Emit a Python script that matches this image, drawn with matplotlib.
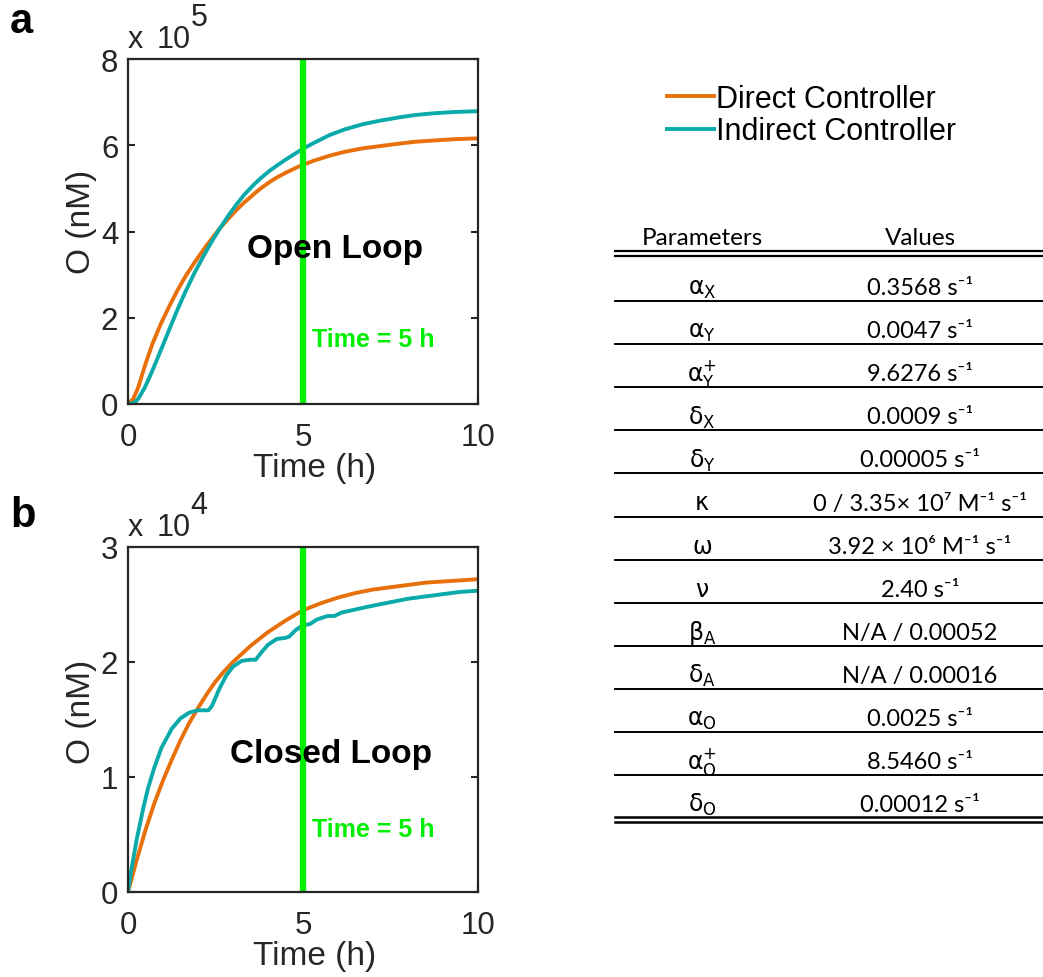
import matplotlib
matplotlib.use('Agg')
import matplotlib.pyplot as plt

plt.rcParams['font.family'] = ['Liberation Sans', 'DejaVu Sans']
plt.rcParams['mathtext.fontset'] = 'dejavusans'

# ---- data ----
# panel a: open loop, O in units of 1e5 nM
t_direct_a = [0, 0.15, 0.29, 0.48, 0.7, 0.95, 1.2, 1.43, 1.65, 1.9, 2.15, 2.38, 2.6, 2.86, 3.1,
              3.33, 3.6, 3.81, 4.05, 4.29, 4.55, 4.86, 5.3, 5.77, 6.2, 6.72, 7.2, 7.77, 8.2, 8.72, 9.3, 10]
direct_a = [0, 0.12, 0.38, 0.88, 1.40, 1.88, 2.30, 2.66, 2.97, 3.28, 3.57, 3.82, 4.05, 4.29, 4.50,
            4.68, 4.87, 5.01, 5.15, 5.27, 5.38, 5.50, 5.64, 5.76, 5.85, 5.93, 5.98, 6.04, 6.08, 6.11, 6.14, 6.16]
t_indirect_a = [0, 0.19, 0.3, 0.48, 0.7, 0.95, 1.2, 1.43, 1.65, 1.9, 2.15, 2.38, 2.6, 2.86, 3.1,
                3.33, 3.6, 3.81, 4.05, 4.29, 4.55, 4.96, 5.3, 5.77, 6.2, 6.72, 7.2, 7.77, 8.2, 8.72, 9.3, 10]
indirect_a = [0, 0.03, 0.13, 0.38, 0.78, 1.27, 1.77, 2.22, 2.62, 3.04, 3.42, 3.75, 4.04, 4.36, 4.63,
              4.86, 5.09, 5.25, 5.41, 5.55, 5.69, 5.90, 6.05, 6.24, 6.37, 6.49, 6.57, 6.65, 6.70, 6.74, 6.77, 6.79]

# panel b: closed loop, O in units of 1e4 nM
t_direct_b = [0, 0.25, 0.5, 0.75, 1, 1.25, 1.5, 1.75, 2, 2.25, 2.5, 2.75, 3, 3.5, 4, 4.5, 5,
              5.5, 6, 6.5, 7, 7.5, 8, 8.5, 9, 9.5, 10]
direct_b = [0, 0.28, 0.54, 0.77, 0.97, 1.15, 1.32, 1.47, 1.60, 1.72, 1.83, 1.92, 2.00, 2.14, 2.26, 2.36, 2.45,
            2.51, 2.56, 2.60, 2.63, 2.65, 2.67, 2.69, 2.70, 2.71, 2.72]
t_indirect_b = [0, 0.1, 0.25, 0.43, 0.57, 0.75, 0.95, 1.25, 1.5, 1.75, 2.0, 2.3, 2.4, 2.6, 2.8, 3.0,
                3.25, 3.5, 3.65, 3.8, 4.0, 4.25, 4.5, 4.6, 4.8, 5.0, 5.2, 5.4, 5.7, 5.9, 6.1, 6.4,
                6.7, 7.0, 7.5, 8.0, 8.5, 9.0, 9.5, 10.0]
indirect_b = [0, 0.20, 0.46, 0.72, 0.90, 1.08, 1.25, 1.42, 1.51, 1.56, 1.58, 1.58, 1.62, 1.76, 1.88, 1.96,
              2.01, 2.02, 2.02, 2.08, 2.15, 2.20, 2.21, 2.22, 2.28, 2.32, 2.33, 2.37, 2.40, 2.40, 2.43, 2.45,
              2.47, 2.49, 2.52, 2.55, 2.57, 2.59, 2.61, 2.62]

labels = ['Direct Controller', 'Indirect Controller']
t_marker = 5

# parameter table
param_names = [r'$\mathrm{α}_\mathrm{X}$', r'$\mathrm{α}_\mathrm{Y}$', r'$\mathrm{α}_\mathrm{Y}^{+}$',
               r'$\mathrm{δ}_\mathrm{X}$', r'$\mathrm{δ}_\mathrm{Y}$', r'$\mathrm{κ}$', r'$\mathrm{ω}$',
               r'$\mathrm{ν}$', r'$\mathrm{β}_\mathrm{A}$', r'$\mathrm{δ}_\mathrm{A}$',
               r'$\mathrm{α}_\mathrm{O}$', r'$\mathrm{α}_\mathrm{O}^{+}$', r'$\mathrm{δ}_\mathrm{O}$']
inv_s = 's\u207b\u00b9'
inv_m = 'M\u207b\u00b9'
param_values = ['0.3568 ' + inv_s, '0.0047 ' + inv_s, '9.6276 ' + inv_s, '0.0009 ' + inv_s,
                '0.00005 ' + inv_s, '0 / 3.35\u00d7 10\u2077 ' + inv_m + ' ' + inv_s,
                '3.92 \u00d7 10\u2076 ' + inv_m + ' ' + inv_s, '2.40 ' + inv_s, 'N/A / 0.00052',
                'N/A / 0.00016', '0.0025 ' + inv_s, '8.5460 ' + inv_s, '0.00012 ' + inv_s]

c_direct = '#E8700A'
c_indirect = '#0AAAAA'
c_green = '#00EE00'
c_axis = '#262626'

W, H = 1043, 978
fig = plt.figure(figsize=(W / 100, H / 100), dpi=100)


def style_axes(ax, ymax, yticks, exponent, ylab_y):
    ax.set_xlim(0, 10)
    ax.set_ylim(0, ymax)
    ax.set_xticks([0, 5, 10])
    ax.set_yticks(yticks)
    for s in ax.spines.values():
        s.set_linewidth(1.6)
        s.set_color(c_axis)
    ax.tick_params(direction='in', top=True, right=True, length=5, width=1.5,
                   labelsize=22.5, colors=c_axis)
    ax.tick_params(axis='x', pad=13)
    ax.tick_params(axis='y', pad=7)
    ax.set_xlabel('Time (h)', fontsize=24, color=c_axis, labelpad=0)
    ax.set_ylabel('O (nM)', fontsize=24, color=c_axis, labelpad=3)
    ax.xaxis.label.set_x(0.534)
    ax.yaxis.label.set_y(ylab_y)
    # MATLAB style exponent above the y axis
    tx = ax.text(0.0, 1.015, 'x', transform=ax.transAxes, fontsize=22,
                 color=c_axis, ha='left', va='bottom')
    t10 = ax.annotate('10', xy=(1, 0), xycoords=tx, xytext=(13, 0), textcoords='offset pixels',
                      fontsize=22, color=c_axis, ha='left', va='bottom')
    ax.annotate(exponent, xy=(1, 0.97), xycoords=t10, fontsize=22,
                color=c_axis, ha='left', va='baseline')


# panel a
ax_a = fig.add_axes([128 / W, 1 - 405 / H, 350 / W, 345 / H])
ln_d, = ax_a.plot(t_direct_a, direct_a, color=c_direct, lw=2.8, solid_joinstyle='round')
ln_i, = ax_a.plot(t_indirect_a, indirect_a, color=c_indirect, lw=2.8, solid_joinstyle='round')
ax_a.plot([t_marker, t_marker], [0.1, 7.95], color=c_green, lw=4.5)
style_axes(ax_a, 8, [0, 2, 4, 6, 8], '5', 0.53)
ax_a.text(5.9, 3.6, 'Open Loop', fontsize=24, fontweight='bold', ha='center', va='center')
ax_a.text(5.25, 1.5, 'Time = 5 h', fontsize=18, fontweight='bold', color=c_green,
          ha='left', va='center')

# panel b
ax_b = fig.add_axes([128 / W, 1 - 893 / H, 350 / W, 345 / H])
ax_b.plot(t_direct_b, direct_b, color=c_direct, lw=2.8, solid_joinstyle='round')
ax_b.plot(t_indirect_b, indirect_b, color=c_indirect, lw=2.8, solid_joinstyle='round')
ax_b.plot([t_marker, t_marker], [0.03, 2.97], color=c_green, lw=4.5)
style_axes(ax_b, 3, [0, 1, 2, 3], '4', 0.525)
ax_b.text(5.8, 1.2, 'Closed Loop', fontsize=24, fontweight='bold', ha='center', va='center')
ax_b.text(5.25, 0.55, 'Time = 5 h', fontsize=18, fontweight='bold', color=c_green,
          ha='left', va='center')

# panel letters
fig.text(10 / W, 1 - 33 / H, 'a', fontsize=30, fontweight='bold', va='baseline')
fig.text(10 / W, 1 - 527 / H, 'b', fontsize=30, fontweight='bold', va='baseline')

# legend
fig.legend([ln_d, ln_i], labels, loc='upper left', bbox_to_anchor=(667 / W, 1 - 85 / H),
           frameon=False, fontsize=22, handlelength=1.55, handletextpad=0.05,
           labelspacing=0.08, borderpad=0, borderaxespad=0)

# parameter table drawn in pixel coordinates
ax_t = fig.add_axes([0, 0, 1, 1])
ax_t.set_xlim(0, W)
ax_t.set_ylim(H, 0)
ax_t.axis('off')
tfont = ['Lato', 'DejaVu Sans']
x0, x1 = 615, W
xp, xv = 702, 920
ax_t.text(xp, 245, 'Parameters', family=tfont, fontsize=17.5, ha='center', va='baseline')
ax_t.text(xv, 245, 'Values', family=tfont, fontsize=17.5, ha='center', va='baseline')
for y in (252, 256.5):
    ax_t.plot([x0, x1], [y, y], color='black', lw=1.6)
row_h = 43.1
first_line = 302
for i, (p, v) in enumerate(zip(param_names, param_values)):
    yl = first_line + i * row_h
    if i == len(param_names) - 1:
        yl = 819
    ax_t.text(xp, yl - 7, p, family=tfont, fontsize=17, ha='center', va='baseline')
    ax_t.text(xv, yl - 7, v, family=tfont, fontsize=17, ha='center', va='baseline')
    if i < len(param_names) - 1:
        ax_t.plot([x0, x1], [yl, yl], color='black', lw=1.4)
for y in (818, 823):
    ax_t.plot([x0, x1], [y, y], color='black', lw=1.8)

fig.savefig('out.png', dpi=100)
